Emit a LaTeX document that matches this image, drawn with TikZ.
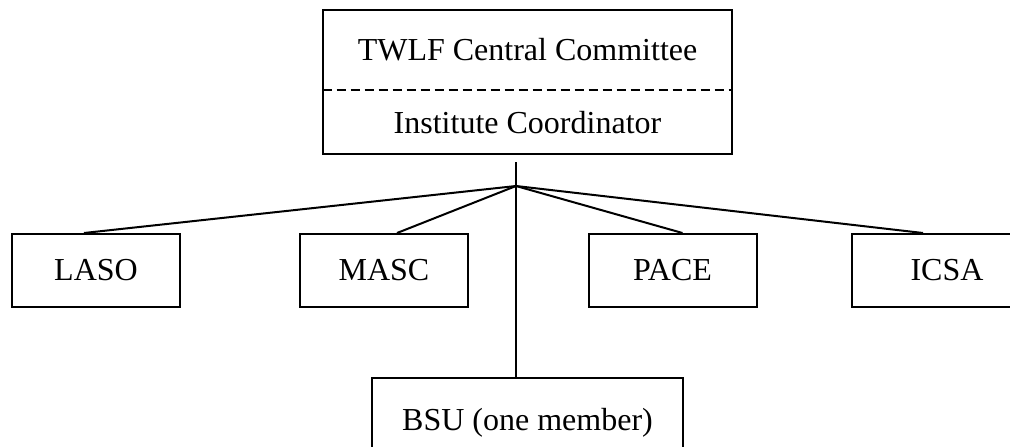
\documentclass[tikz,border=0pt]{standalone}
\usepackage{fontspec}
\setmainfont{Liberation Serif}
\usetikzlibrary{positioning}
\begin{document}
\begin{tikzpicture}[
    x=0.5pt, y=0.5pt,
    every node/.style={font=\fontsize{16}{19}\selectfont, inner sep=0pt},
    unitbox/.style={draw, line width=1pt, minimum width=84pt, minimum height=36.5pt},
    link/.style={line width=1pt}
]
\useasboundingbox (0,0) rectangle (1010,446);
\clip (0,0) rectangle (1010,446);

% --- Kopfbox: Zentralkomitee / Koordinator ---
\node[minimum width=204.5pt, minimum height=40pt] (committee) at (527.5,396) {TWLF Central Committee};
\node[minimum width=204.5pt, minimum height=31.5pt, below=0pt of committee] (coordinator) {Institute Coordinator};
\draw[link] (committee.north west) rectangle (coordinator.south east);
\draw[link, dash pattern=on 4.5pt off 2.5pt] (committee.south west) -- (committee.south east);

% --- Mitgliedsorganisationen ---
\node[unitbox] (laso) at (96,175.5)    {LASO};
\node[unitbox] (masc) at (384,175.5)   {MASC};
\node[unitbox] (pace) at (672.5,175.5) {PACE};
\node[unitbox, minimum width=95pt] (icsa) at (947,175.5) {ICSA};
\node[unitbox, minimum width=155.5pt, minimum height=45pt] (bsu) at (527.5,23) {BSU (one member)};

% --- Verbindungen ---
\coordinate (hubtop) at (516,284);
\coordinate (hub) at (516,260);
\draw[link] (hubtop) -- (hubtop |- bsu.north);
\foreach \unit/\shift in {laso/-6pt, masc/6.5pt, pace/5pt, icsa/-12pt}
    \draw[link] (hub) -- ([xshift=\shift]\unit.north);

\end{tikzpicture}
\end{document}
